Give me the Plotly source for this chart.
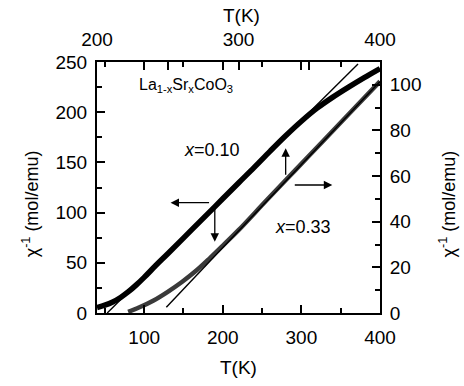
import plotly.graph_objects as go

# x = 0.10 : bottom T axis, left chi^-1 axis
t_x010 = [40, 50, 60, 70, 80, 90, 100, 115, 130, 160, 190, 220, 240, 260, 280, 300, 320, 340, 360, 380, 400]
chi_x010 = [5.5, 7.8, 11, 15.5, 21.2, 28, 35.5, 47.5, 59, 82.5, 106, 129.5, 145, 161, 176.5, 191, 204, 215, 225, 234.5, 243.5]
fit_t_x010 = [53, 372]
fit_chi_x010 = [0, 248]

# x = 0.33 : top T axis, right chi^-1 axis
t_x033 = [222, 230, 240, 250, 260, 270, 280, 290, 300, 320, 340, 360, 380, 400]
chi_x033 = [0.5, 2.5, 5.5, 9.3, 13.6, 18.5, 24.2, 30.2, 36.3, 49.5, 62.5, 75.5, 88.5, 101.5]
fit_t_x033 = [249, 400]
fit_chi_x033 = [2.5, 101.5]

FONT = "Liberation Sans, Arial, sans-serif"

fig = go.Figure()
fig.add_trace(go.Scatter(x=t_x010, y=chi_x010, mode="lines", line=dict(color="black", width=5.5, shape="spline", smoothing=1.0),
                         xaxis="x", yaxis="y", showlegend=False))
fig.add_trace(go.Scatter(x=fit_t_x010, y=fit_chi_x010, mode="lines", line=dict(color="black", width=1.4),
                         xaxis="x", yaxis="y", showlegend=False))
fig.add_trace(go.Scatter(x=t_x033, y=chi_x033, mode="lines", line=dict(color="#3a3a3a", width=4.5, shape="spline", smoothing=1.0),
                         xaxis="x2", yaxis="y2", showlegend=False))
fig.add_trace(go.Scatter(x=fit_t_x033, y=fit_chi_x033, mode="lines", line=dict(color="black", width=1.4),
                         xaxis="x2", yaxis="y2", showlegend=False))

tickfont = dict(family=FONT, size=19, color="black")
common = dict(showline=True, linecolor="black", linewidth=2, ticks="inside", tickcolor="black",
              tickwidth=1.5, ticklen=8, showgrid=False, zeroline=False, tickfont=tickfont, automargin=False)

fig.update_layout(
    width=464, height=386,
    margin=dict(l=97, r=83.5, t=62, b=73, autoexpand=False),
    paper_bgcolor="white", plot_bgcolor="white",
    xaxis=dict(range=[40, 400], tickvals=[100, 200, 300, 400], mirror="ticks",
               minor=dict(dtick=50, tick0=0, ticks="inside", ticklen=5, tickcolor="black", tickwidth=1.5),
               ticklabelstandoff=6, **common),
    xaxis2=dict(range=[200, 400], overlaying="x", side="top", anchor="y", tickvals=[200, 300, 400],
                minor=dict(dtick=50, tick0=0, ticks="inside", ticklen=8, tickcolor="black", tickwidth=1.5),
                ticklabelstandoff=6, **common),
    yaxis=dict(range=[0, 250], tickvals=[0, 50, 100, 150, 200, 250],
               minor=dict(dtick=25, tick0=0, ticks="inside", ticklen=5, tickcolor="black", tickwidth=1.5),
               ticklabelstandoff=4, **common),
    yaxis2=dict(range=[0, 110], overlaying="y", side="right", anchor="x", tickvals=[0, 20, 40, 60, 80, 100],
                minor=dict(dtick=10, tick0=0, ticks="inside", ticklen=5, tickcolor="black", tickwidth=1.5),
                ticklabelstandoff=4, **common),
)

tfont = dict(family=FONT, size=18, color="black")
anns = [
    dict(text="χ<sup>-1</sup> (mol/emu)", x=-0.236, y=0.434, textangle=-90),
    dict(text="χ<sup>-1</sup> (mol/emu)", x=1.238, y=0.434, textangle=-90),
    dict(text="T(K)", x=0.499, y=-0.219, font=dict(family=FONT, size=19, color="black")),
    dict(text="T(K)", x=0.51, y=1.187, font=dict(family=FONT, size=19, color="black")),
    dict(text="<i>x</i>=0.10", x=0.299, y=0.649, xanchor="left"),
    dict(text="<i>x</i>=0.33", x=0.621, y=0.344, xanchor="left"),
    dict(text="La<sub>1-x</sub>Sr<sub>x</sub>CoO<sub>3</sub>", x=0.14, y=0.905, xanchor="left",
         font=dict(family=FONT, size=16, color="black")),
]
for a in anns:
    base = dict(xref="paper", yref="paper", showarrow=False, font=tfont, xanchor="center", yanchor="middle")
    base.update(a)
    fig.add_annotation(**base)

# arrows (head position in paper coords, tail offset in pixels)
arrows = [
    ((170.7 - 97) / 283.5, (313 - 202.7) / 251, 40, 0),
    ((215 - 97) / 283.5, (313 - 241.7) / 251, 0, -35),
    ((286 - 97) / 283.5, (313 - 148.3) / 251, 0, 28),
    ((332.7 - 97) / 283.5, (313 - 185) / 251, -39, 0),
]
for x, y, ax, ay in arrows:
    fig.add_annotation(x=x, y=y, xref="paper", yref="paper", ax=ax, ay=ay, text="", showarrow=True,
                       arrowhead=2, arrowsize=1.3, arrowwidth=1.3, arrowcolor="black")

fig.write_html("out.html", config={"displayModeBar": False},
               post_script="document.body.style.margin='0px';")
